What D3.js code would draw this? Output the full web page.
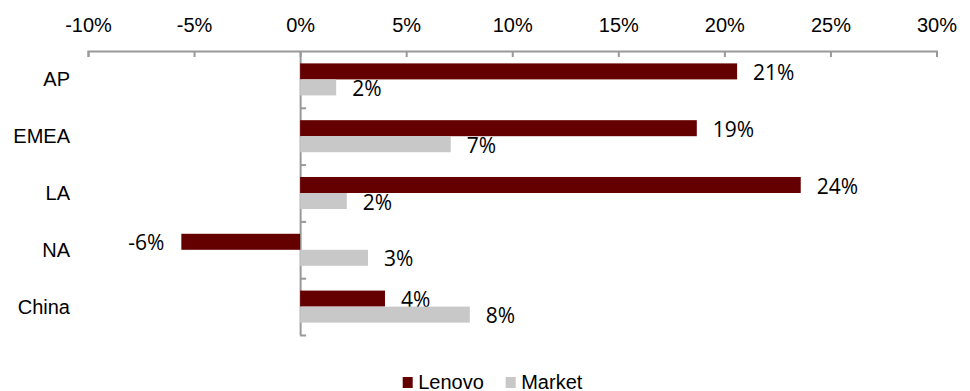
<!DOCTYPE html>
<html lang="en">
<head>
  <meta charset="UTF-8">
  <title>Lenovo vs Market</title>
  <style>
    body { margin: 0; background: #fff; }
    .axis text { font-family: "Liberation Sans", Arial, sans-serif; font-size: 20px; fill: #000; }
    .axis path, .axis line { stroke: #999; stroke-width: 2; }
  </style>
</head>
<body>
  <script src="https://d3js.org/d3.v7.min.js"></script>
  <div id="chart"></div>
  <script>
    // data
    var regions = ["AP", "EMEA", "LA", "NA", "China"];
    var series = ["Lenovo", "Market"];
    var lenovo = [0.206, 0.187, 0.236, -0.056, 0.040];
    var market = [0.017, 0.071, 0.022, 0.032, 0.080];
    var xTicks = [-0.10, -0.05, 0, 0.05, 0.10, 0.15, 0.20, 0.25, 0.30];
    var colors = { Lenovo: "#640000", Market: "#c8c8c8" };

    var W = 970, H = 391;

    var rows = regions.map(function (r, i) {
      return { region: r, Lenovo: lenovo[i], Market: market[i] };
    });

    var svg = d3.select("#chart").append("svg")
      .attr("width", W).attr("height", H);

    var x = d3.scaleLinear().domain([-0.10, 0.30]).range([88, 936.5]);

    var y0 = d3.scaleBand().domain(regions).range([51, 335])
      .paddingInner(0.436).paddingOuter(0.218);
    var y1 = d3.scaleBand().domain(series).range([0, y0.bandwidth()]);

    // plain hyphen for negatives, like the original
    var pct = function (d) { return Math.round(d * 100) + "%"; };

    // top axis, ticks pointing into the plot
    svg.append("g")
      .attr("class", "axis")
      .attr("transform", "translate(0,51)")
      .call(d3.axisTop(x).tickValues(xTicks)
        .tickFormat(pct)
        .tickSizeInner(-6).tickSizeOuter(-6).tickPadding(19));

    // vertical axis at zero with category separators
    var sep = d3.scaleLinear().domain([0, regions.length]).range(y0.range());
    svg.append("g")
      .attr("class", "axis")
      .attr("transform", "translate(" + x(0) + ",0)")
      .call(d3.axisRight(sep).tickValues(d3.range(1, regions.length + 1))
        .tickFormat("").tickSize(6).tickSizeOuter(0));

    // category labels
    svg.selectAll(".cat")
      .data(regions).enter()
      .append("text")
      .attr("class", "cat")
      .attr("x", 70)
      .attr("y", function (d) { return y0(d) + y0.bandwidth() / 2; })
      .attr("dy", "0.35em")
      .attr("text-anchor", "end")
      .style("font-family", "'Liberation Sans', Arial, sans-serif")
      .style("font-size", "20px")
      .text(function (d) { return d; });

    // bars
    var groups = svg.selectAll(".grp")
      .data(rows).enter()
      .append("g")
      .attr("transform", function (d) { return "translate(0," + y0(d.region) + ")"; });

    var cells = groups.selectAll("g")
      .data(function (d) { return series.map(function (s) { return { key: s, value: d[s] }; }); })
      .enter().append("g");

    cells.append("rect")
      .attr("x", function (d) { return x(Math.min(0, d.value)); })
      .attr("y", function (d) { return y1(d.key); })
      .attr("width", function (d) { return Math.abs(x(d.value) - x(0)); })
      .attr("height", y1.bandwidth())
      .style("fill", function (d) { return colors[d.key]; });

    cells.append("text")
      .attr("x", function (d) { return d.value < 0 ? x(d.value) - 17 : x(d.value) + 16; })
      .attr("y", function (d) { return y1(d.key) + y1.bandwidth() / 2 + 1; })
      .attr("dy", "0.36em")
      .attr("text-anchor", function (d) { return d.value < 0 ? "end" : "start"; })
      .style("font-family", "'Open Sans', sans-serif")
      .style("font-size", "21px")
      .style("fill", "#000")
      .text(function (d) { return pct(d.value); });

    // legend
    var legendX = [402.7, 505.7];
    var legend = svg.selectAll(".leg")
      .data(series).enter()
      .append("g")
      .attr("transform", function (d, i) { return "translate(" + legendX[i] + ",377)"; });
    legend.append("rect")
      .attr("width", 10).attr("height", 11)
      .style("fill", function (d) { return colors[d]; });
    legend.append("text")
      .attr("x", 15.5).attr("y", 12)
      .style("font-family", "'Liberation Sans', Arial, sans-serif")
      .style("font-size", "20px")
      .text(function (d) { return d; });
  </script>
</body>
</html>
